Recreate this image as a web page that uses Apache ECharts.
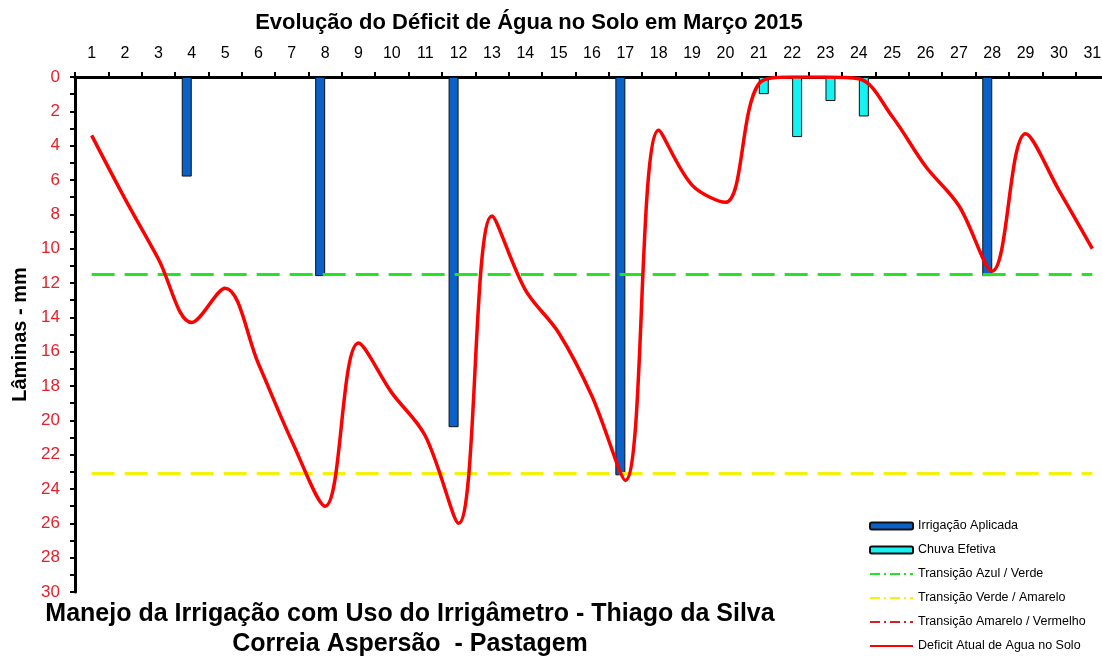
<!DOCTYPE html>
<html>
<head>
<meta charset="utf-8">
<title>Déficit de Água no Solo - Março 2015</title>
<script src="https://cdn.jsdelivr.net/npm/echarts@6/dist/echarts.min.js"></script>
<style>
  html, body { margin: 0; padding: 0; background: #fff; }
  #main { width: 1102px; height: 656px; }
</style>
</head>
<body>
<div id="main"></div>
<script>
// dias do mês
var dias = [];
for (var d = 1; d <= 31; d++) dias.push(String(d));

// lâminas (mm)
var irrigacao = [null, null, null, 5.8, null, null, null, 11.6, null, null, null, 20.4, null, null, null, null, 23.2,
  null, null, null, null, null, null, null, null, null, null, 11.6, null, null, null];
var chuva = [null, null, null, null, null, null, null, null, null, null, null, null, null, null, null, null, null,
  null, null, null, 1.0, 3.5, 1.4, 2.3, null, null, null, null, null, null, null];
var deficit = [3.4, 7.1, 10.6, 14.3, 12.3, 16.7, 21.2, 25.0, 15.5, 18.4, 20.9, 26.0, 8.1, 12.4, 14.9, 18.6, 23.5,
  3.1, 6.3, 7.3, 0.4, 0, 0, 0.1, 2.3, 5.2, 7.5, 11.3, 3.3, 6.6, 10.0];

// limites de transição
var limiteAzulVerde = 11.5;
var limiteVerdeAmarelo = 23.1;

var fonte = 'Liberation Sans, Arial, sans-serif';

var myChart = echarts.init(document.getElementById('main'));

function linhaLimite(valor, cor) {
  return {
    silent: true,
    symbol: 'none',
    label: { show: false },
    lineStyle: { color: cor, width: 3, type: [23, 10] },
    data: [[{ coord: [dias[0], valor] }, { coord: [dias[dias.length - 1], valor] }]]
  };
}

// itens da legenda das linhas sem o marcador
function itemLinha(nome) {
  return { name: nome, itemStyle: { opacity: 0 } };
}

var option = {
  backgroundColor: '#fff',
  animation: false,
  textStyle: { fontFamily: fonte },
  title: [{
    text: 'Evolução do Déficit de Água no Solo em Março 2015',
    left: 524, top: 7, textAlign: 'center',
    textStyle: { fontSize: 22, fontWeight: 'bold', color: '#000', fontFamily: fonte }
  }, {
    text: 'Manejo da Irrigação com Uso do Irrigâmetro - Thiago da Silva\nCorreia Aspersão  - Pastagem',
    left: 405, top: 594, textAlign: 'center',
    textStyle: { fontSize: 25, fontWeight: 'bold', color: '#000', fontFamily: fonte, lineHeight: 30 }
  }],
  legend: {
    orient: 'vertical',
    left: 864, top: 514,
    height: 140,
    itemWidth: 43, itemHeight: 7, itemGap: 10,
    textStyle: { fontSize: 12.5, lineHeight: 14, color: '#000', fontFamily: fonte },
    data: ['Irrigação Aplicada', 'Chuva Efetiva', itemLinha('Transição Azul / Verde'), itemLinha('Transição Verde / Amarelo'),
      itemLinha('Transição Amarelo / Vermelho'), itemLinha('Deficit Atual de Agua no Solo')]
  },
  grid: {
    left: 75, top: 77, width: 1034, height: 515,
    outerBoundsMode: 'none'
  },
  xAxis: {
    type: 'category',
    position: 'top',
    data: dias,
    boundaryGap: true,
    axisLine: { lineStyle: { color: '#000', width: 3 } },
    axisTick: { show: true, length: 5, inside: false, lineStyle: { color: '#000', width: 2 } },
    axisLabel: { fontSize: 16, color: '#000', margin: 15, interval: 0 },
    splitLine: { show: false }
  },
  yAxis: {
    type: 'value',
    inverse: true,
    min: 0, max: 30, interval: 2,
    name: 'Lâminas - mm',
    nameLocation: 'middle',
    nameGap: 42,
    nameTextStyle: { fontSize: 20, fontWeight: 'bold', color: '#000' },
    axisLine: { show: true, lineStyle: { color: '#000', width: 3 } },
    axisTick: { show: true, length: 5, lineStyle: { color: '#000', width: 2 } },
    minorTick: { show: true, splitNumber: 2, length: 5, lineStyle: { color: '#000', width: 2 } },
    axisLabel: {
      fontSize: 17, margin: 15,
      color: function (v) { return v === 0 ? '#000' : '#e8202a'; }
    },
    splitLine: { show: false }
  },
  series: [{
    name: 'Irrigação Aplicada',
    type: 'bar',
    data: irrigacao,
    barWidth: 10,
    barGap: '0%',
    itemStyle: { color: '#0a62c9', borderColor: '#111', borderWidth: 1 },
    z: 2
  }, {
    name: 'Chuva Efetiva',
    type: 'bar',
    data: chuva,
    barWidth: 10,
    barGap: '0%',
    itemStyle: { color: '#14f2f2', borderColor: '#111', borderWidth: 1 },
    z: 2
  }, {
    name: 'Transição Azul / Verde',
    type: 'line',
    data: [],
    symbol: 'none',
    itemStyle: { color: '#22e622' },
    lineStyle: { color: '#22e622', width: 1.5, type: [10, 4, 2, 4] },
    markLine: linhaLimite(limiteAzulVerde, '#22e622'),
    z: 3
  }, {
    name: 'Transição Verde / Amarelo',
    type: 'line',
    data: [],
    symbol: 'none',
    itemStyle: { color: '#f2f20a' },
    lineStyle: { color: '#f2f20a', width: 1.5, type: [10, 4, 2, 4] },
    markLine: linhaLimite(limiteVerdeAmarelo, '#f2f20a'),
    z: 3
  }, {
    name: 'Transição Amarelo / Vermelho',
    type: 'line',
    data: [],
    symbol: 'none',
    itemStyle: { color: '#d42020' },
    lineStyle: { color: '#d42020', width: 1, type: [10, 4, 2, 4] }
  }, {
    name: 'Deficit Atual de Agua no Solo',
    type: 'line',
    data: deficit,
    smooth: 0.35,
    symbol: 'none',
    itemStyle: { color: '#ff0000' },
    lineStyle: { color: '#ff0000', width: 3.5 },
    z: 5
  }]
};

myChart.setOption(option);
</script>
</body>
</html>
